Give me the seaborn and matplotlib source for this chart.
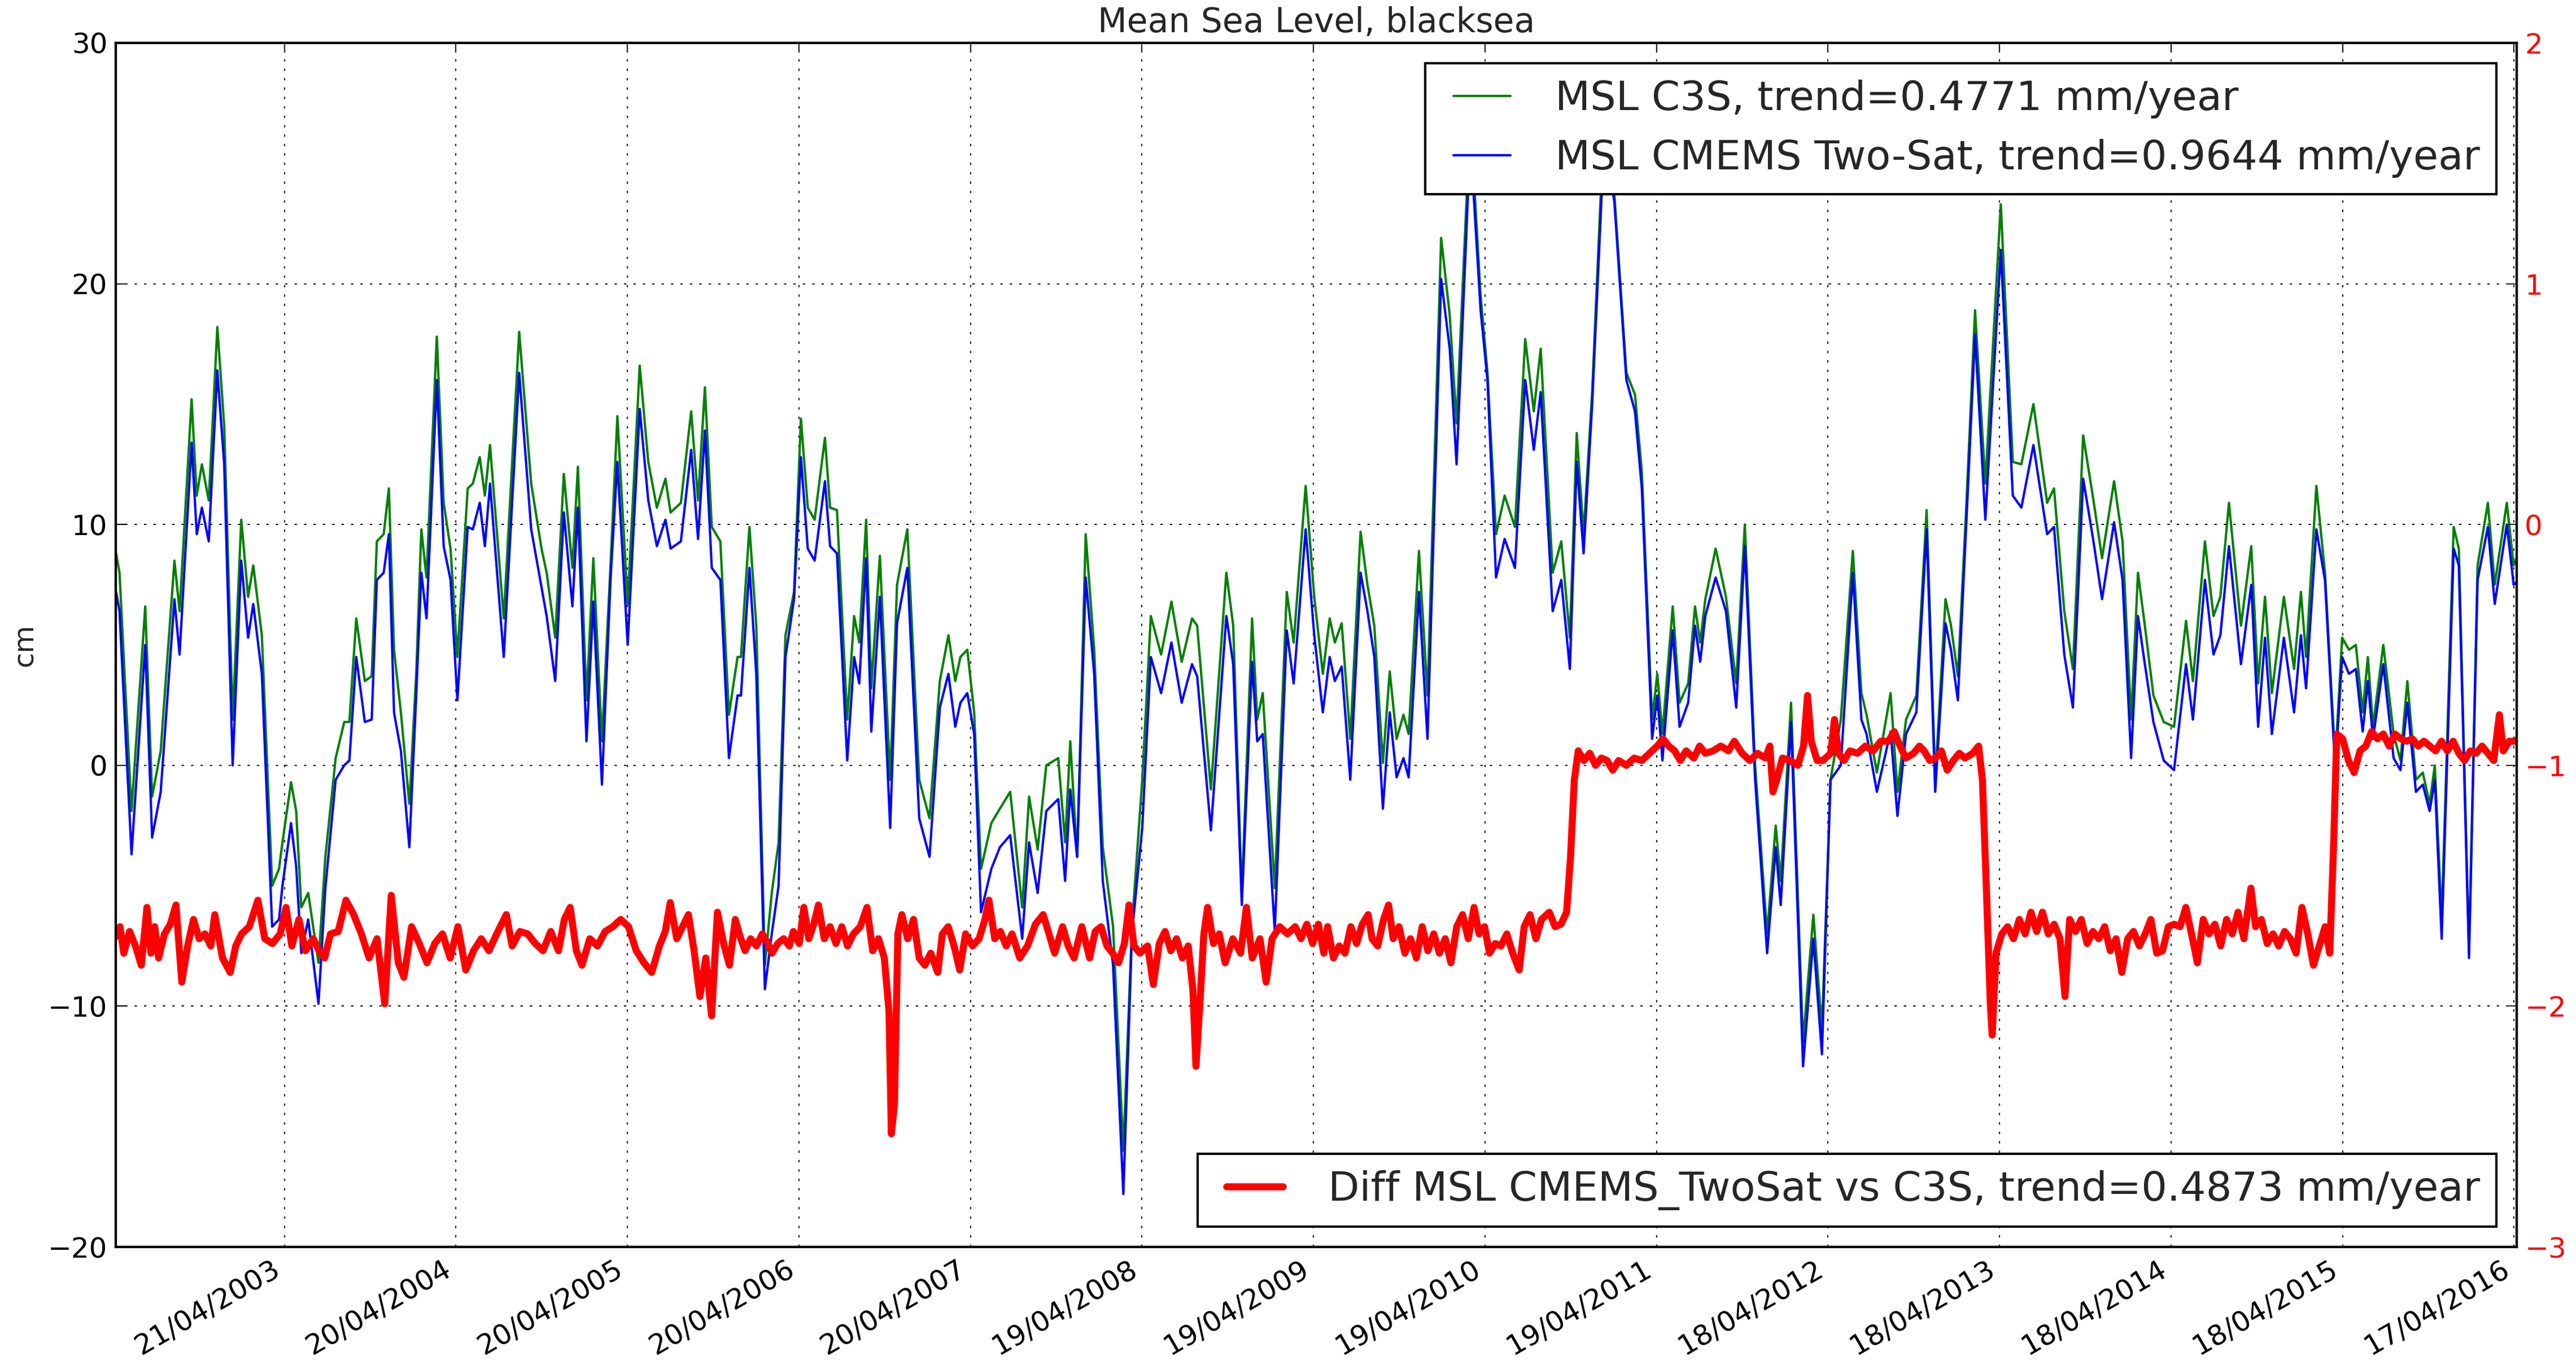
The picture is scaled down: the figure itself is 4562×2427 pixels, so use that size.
import numpy as np
import pandas as pd
import matplotlib
matplotlib.use("Agg")
import matplotlib.pyplot as plt
import matplotlib.dates as mdates
import seaborn as sns

# sample times (decimal years) and values
msl_years = [
    2002.32, 2002.34, 2002.41, 2002.49, 2002.53, 2002.58, 2002.66, 2002.69, 2002.76, 2002.79,
    2002.82, 2002.86, 2002.91, 2002.95, 2003.00, 2003.05, 2003.09, 2003.12, 2003.17, 2003.23,
    2003.27, 2003.29, 2003.34, 2003.37, 2003.40, 2003.44, 2003.50, 2003.54, 2003.60, 2003.65,
    2003.68, 2003.72, 2003.77, 2003.81, 2003.84, 2003.88, 2003.91, 2003.94, 2003.98, 2004.03,
    2004.07, 2004.10, 2004.13, 2004.19, 2004.23, 2004.27, 2004.31, 2004.37, 2004.40, 2004.44,
    2004.47, 2004.50, 2004.53, 2004.58, 2004.67, 2004.74, 2004.80, 2004.83, 2004.88, 2004.93,
    2004.98, 2005.01, 2005.06, 2005.10, 2005.15, 2005.20, 2005.24, 2005.30, 2005.37, 2005.42,
    2005.47, 2005.52, 2005.55, 2005.61, 2005.67, 2005.71, 2005.75, 2005.79,
    2005.84, 2005.89, 2005.94, 2005.96, 2006.01, 2006.05, 2006.10, 2006.14, 2006.18, 2006.22,
    2006.27, 2006.31, 2006.35, 2006.39, 2006.45, 2006.48, 2006.52, 2006.58, 2006.62, 2006.65,
    2006.69, 2006.72, 2006.77, 2006.83, 2006.87, 2006.93, 2007.00, 2007.06, 2007.12, 2007.17,
    2007.21, 2007.24, 2007.28, 2007.32, 2007.36, 2007.42, 2007.47, 2007.53, 2007.60, 2007.64,
    2007.69, 2007.74, 2007.81, 2007.85, 2007.88, 2007.92, 2007.97, 2008.02, 2008.07, 2008.13,
    2008.19, 2008.24, 2008.30, 2008.35, 2008.41, 2008.47, 2008.53, 2008.59, 2008.62, 2008.70,
    2008.79, 2008.83, 2008.88, 2008.94, 2008.97, 2009.00, 2009.07, 2009.14, 2009.18, 2009.25,
    2009.30,
    2009.35, 2009.39, 2009.42, 2009.46, 2009.51, 2009.57, 2009.61, 2009.65, 2009.70, 2009.74,
    2009.78, 2009.82, 2009.85, 2009.91, 2009.96, 2010.04, 2010.09, 2010.13, 2010.21, 2010.27,
    2010.31, 2010.36, 2010.41, 2010.47, 2010.53, 2010.58, 2010.62, 2010.69, 2010.74, 2010.79,
    2010.83, 2010.87, 2010.92, 2010.99, 2011.05, 2011.12, 2011.17, 2011.21, 2011.27, 2011.30,
    2011.33, 2011.39, 2011.43, 2011.48, 2011.52, 2011.55, 2011.58, 2011.64, 2011.70, 2011.76,
    2011.81, 2011.87, 2011.94, 2011.99, 2012.02, 2012.08, 2012.15, 2012.21, 2012.26, 2012.31,
    2012.37, 2012.44, 2012.49, 2012.52, 2012.58, 2012.66, 2012.70, 2012.75, 2012.81,
    2012.87, 2012.92, 2012.98, 2013.01, 2013.05, 2013.10, 2013.15, 2013.21, 2013.30, 2013.37,
    2013.42, 2013.49, 2013.57, 2013.61, 2013.67, 2013.72, 2013.78, 2013.84, 2013.89, 2013.96,
    2014.01, 2014.06, 2014.10, 2014.14, 2014.19, 2014.25, 2014.31, 2014.38, 2014.42, 2014.49,
    2014.54, 2014.58, 2014.63, 2014.70, 2014.76, 2014.80, 2014.84, 2014.88, 2014.95, 2015.01,
    2015.05, 2015.08, 2015.14, 2015.19, 2015.25, 2015.29, 2015.33, 2015.37, 2015.41, 2015.44,
    2015.47, 2015.53, 2015.59, 2015.63, 2015.67, 2015.72, 2015.76, 2015.80, 2015.83, 2015.87,
    2015.94, 2015.97, 2016.03, 2016.08, 2016.14, 2016.18, 2016.25, 2016.29, 2016.32,
]
c3s_cm = [
    8.8, 8.0, -1.9, 6.6, -1.3, 0.6, 8.5, 6.4, 15.2, 11.2,
    12.5, 11.0, 18.2, 14.1, 1.9, 10.2, 7.0, 8.3, 5.4, -5.0,
    -4.3, -3.2, -0.7, -1.9, -5.9, -5.3, -8.2, -3.8, 0.3, 1.8,
    1.8, 6.1, 3.5, 3.7, 9.3, 9.6, 11.5, 4.8, 2.2, -1.6,
    3.8, 9.8, 7.8, 17.8, 10.9, 9.0, 4.5, 11.5, 11.7, 12.8,
    11.2, 13.3, 10.6, 6.1, 18.0, 11.7, 9.0, 8.0, 5.3, 12.1,
    8.2, 12.4, 2.7, 8.6, 1.0, 8.3, 14.5, 6.7, 16.6, 12.6,
    10.7, 11.9, 10.5, 10.9, 14.7, 11.0, 15.7, 9.9,
    9.3, 2.1, 4.5, 4.5, 9.9, 5.8, -8.3, -5.3, -3.2, 5.4,
    7.2, 14.4, 10.7, 10.2, 13.6, 10.7, 10.6, 1.9, 6.2, 5.1,
    10.2, 3.2, 8.7, -0.6, 7.5, 9.8, -0.6, -2.2, 3.5, 5.4,
    3.5, 4.5, 4.8, 2.2, -4.3, -2.4, -1.8, -1.1, -5.9, -1.3,
    -3.5, 0.0, 0.3, -3.2, 1.0, -3.8, 9.6, 4.8, -3.4, -6.7,
    -16.0, -6.7, -0.6, 6.2, 4.6, 6.8, 4.3, 6.1, 5.8, -1.0,
    8.0, 5.8, -5.4, 6.1, 1.9, 3.0, -5.1, 7.2, 5.1, 11.6,
    7.0,
    3.8, 6.1, 5.1, 5.9, 1.1, 9.7, 7.5, 5.8, 0.1, 3.9,
    1.1, 2.1, 1.3, 8.9, 2.9, 21.9, 18.7, 14.2, 27.0, 19.5,
    16.3, 9.6, 11.2, 9.9, 17.7, 14.7, 17.3, 8.0, 9.3, 5.3,
    13.8, 9.6, 15.5, 27.0, 23.7, 16.3, 15.4, 12.2, 1.9, 3.8,
    1.3, 6.6, 2.6, 3.4, 6.6, 5.1, 6.9, 9.0, 7.0, 3.4,
    10.0, 0.0, -7.0, -2.5, -4.8, 2.6, -11.5, -6.2, -11.0, -0.6,
    1.9, 8.9, 3.0, 2.1, -0.3, 3.0, -1.1, 1.9, 2.9,
    10.6, -0.6, 6.9, 5.8, 3.7, 10.9, 18.9, 11.7, 23.3, 12.6,
    12.5, 15.0, 10.9, 11.5, 6.4, 4.0, 13.7, 11.0, 8.6, 11.8,
    9.3, 1.9, 8.0, 5.8, 2.9, 1.8, 1.6, 6.0, 3.5, 9.3,
    6.2, 7.0, 10.9, 5.8, 9.1, 3.4, 7.0, 3.0, 7.0, 4.0,
    7.2, 4.5, 11.6, 8.0, 0.2, 5.3, 4.8, 5.0, 2.2, 4.5,
    1.6, 5.0, 1.3, 0.2, 3.5, -0.6, -0.3, -1.6, 0.0, -6.4,
    9.9, 9.0, -7.7, 8.3, 10.9, 7.5, 10.9, 8.3, 8.8,
]
cmems_cm = [
    7.2, 6.4, -3.7, 5.0, -3.0, -1.1, 6.9, 4.6, 13.4, 9.6,
    10.7, 9.3, 16.4, 12.5, 0.0, 8.5, 5.3, 6.7, 3.8, -6.7,
    -6.4, -5.0, -2.4, -4.2, -7.8, -6.4, -9.9, -5.1, -0.6, 0.0,
    0.2, 4.5, 1.8, 1.9, 7.7, 8.0, 9.6, 2.2, 0.6, -3.4,
    2.9, 8.0, 6.1, 16.0, 9.1, 7.7, 2.7, 9.9, 9.8, 10.9,
    9.1, 11.7, 9.0, 4.5, 16.3, 9.8, 7.4, 6.2, 3.5, 10.5,
    6.6, 10.7, 1.0, 6.8, -0.8, 7.7, 12.6, 5.0, 14.8, 11.0,
    9.1, 10.2, 9.0, 9.3, 13.1, 9.4, 13.9, 8.2,
    7.7, 0.3, 2.9, 2.9, 8.2, 3.8, -9.3, -7.0, -5.0, 4.5,
    6.9, 12.8, 9.0, 8.5, 11.8, 9.1, 8.8, 0.2, 4.5, 3.4,
    8.6, 1.4, 7.0, -2.6, 5.9, 8.2, -2.2, -3.8, 2.4, 3.8,
    1.6, 2.6, 3.0, 1.3, -6.1, -4.3, -3.4, -2.9, -7.2, -3.2,
    -5.3, -1.9, -1.4, -4.8, -1.0, -3.8, 7.8, 3.8, -4.8, -8.3,
    -17.8, -7.0, -2.6, 4.5, 3.0, 5.1, 2.6, 4.2, 3.7, -2.7,
    6.2, 4.2, -5.8, 4.3, 1.0, 1.3, -6.9, 5.6, 3.4, 9.8,
    5.4,
    2.2, 4.5, 3.5, 4.1, -0.6, 8.0, 6.4, 4.5, -1.8, 2.2,
    -0.5, 0.3, -0.5, 7.2, 1.1, 20.2, 17.3, 12.5, 26.0, 18.9,
    16.0, 7.8, 9.4, 8.2, 16.0, 13.1, 15.5, 6.4, 7.7, 4.0,
    12.6, 8.8, 15.0, 26.0, 23.4, 16.0, 14.7, 11.5, 1.1, 2.9,
    0.2, 5.6, 1.6, 2.6, 5.8, 4.3, 6.2, 7.8, 6.4, 2.4,
    9.1, -0.6, -7.8, -3.4, -5.8, 1.8, -12.5, -7.2, -12.0, -0.6,
    0.0, 8.0, 1.9, 1.3, -1.1, 1.4, -2.1, 1.3, 2.2,
    9.8, -1.1, 5.9, 4.8, 2.7, 10.2, 17.9, 10.2, 21.4, 11.2,
    10.7, 13.3, 9.6, 9.9, 4.6, 2.4, 11.9, 9.3, 6.9, 10.1,
    7.7, 0.3, 6.2, 4.2, 1.8, 0.2, -0.2, 4.2, 1.9, 7.7,
    4.6, 5.4, 9.1, 4.2, 7.5, 1.6, 5.3, 1.3, 5.3, 2.2,
    5.4, 3.2, 9.8, 7.7, -0.2, 4.5, 3.8, 4.0, 1.4, 3.5,
    1.1, 4.2, 0.3, -0.2, 2.6, -1.1, -0.8, -1.9, -0.6, -7.2,
    9.0, 8.3, -8.0, 7.7, 9.9, 6.7, 10.0, 7.5, 7.7,
]

# difference series, right axis units
diff_years = [
    2002.309, 2002.343, 2002.365, 2002.399, 2002.433, 2002.467, 2002.500, 2002.523, 2002.545, 2002.568,
    2002.602, 2002.636, 2002.669, 2002.703, 2002.737, 2002.771, 2002.804, 2002.838, 2002.872, 2002.895,
    2002.940, 2002.985, 2003.018, 2003.052, 2003.097, 2003.147, 2003.187, 2003.232, 2003.277, 2003.311,
    2003.345, 2003.386, 2003.424, 2003.469, 2003.503, 2003.536, 2003.570, 2003.615, 2003.660, 2003.705,
    2003.750, 2003.795, 2003.841, 2003.886, 2003.924, 2003.965, 2003.998, 2004.043, 2004.088, 2004.133,
    2004.178, 2004.223, 2004.268, 2004.313, 2004.359, 2004.404, 2004.449, 2004.494, 2004.539, 2004.595,
    2004.629, 2004.674, 2004.719, 2004.764, 2004.809, 2004.854, 2004.899, 2004.933, 2004.967, 2005.001,
    2005.034, 2005.079, 2005.124, 2005.169, 2005.214, 2005.259, 2005.305, 2005.350, 2005.395, 2005.440,
    2005.485, 2005.519, 2005.548, 2005.586, 2005.620, 2005.654, 2005.687, 2005.721, 2005.755, 2005.789,
    2005.823,
    2005.859, 2005.893, 2005.927, 2005.950, 2005.984, 2006.017, 2006.051, 2006.085, 2006.119, 2006.142,
    2006.175, 2006.209, 2006.243, 2006.266, 2006.300, 2006.327, 2006.356, 2006.385, 2006.412, 2006.446,
    2006.480, 2006.514, 2006.548, 2006.582, 2006.616, 2006.656, 2006.695, 2006.728, 2006.762, 2006.796,
    2006.823, 2006.837, 2006.855, 2006.875, 2006.898, 2006.932, 2006.966, 2007.000, 2007.033, 2007.067,
    2007.108, 2007.135, 2007.169, 2007.203, 2007.236, 2007.270, 2007.311, 2007.349, 2007.383, 2007.406,
    2007.440, 2007.473, 2007.507, 2007.541, 2007.586, 2007.631, 2007.677, 2007.722, 2007.756, 2007.789,
    2007.835, 2007.868, 2007.902, 2007.947, 2007.993, 2008.026, 2008.060, 2008.094, 2008.128, 2008.162,
    2008.196, 2008.223, 2008.252, 2008.286, 2008.331, 2008.365, 2008.399, 2008.433, 2008.467, 2008.500,
    2008.534, 2008.568, 2008.595, 2008.613, 2008.636, 2008.659, 2008.681, 2008.715, 2008.749, 2008.783,
    2008.828, 2008.873, 2008.907, 2008.941, 2008.986, 2009.020, 2009.054, 2009.099, 2009.144, 2009.189,
    2009.223, 2009.257, 2009.291, 2009.324,
    2009.356, 2009.378, 2009.412, 2009.446, 2009.479, 2009.513, 2009.547, 2009.580, 2009.614, 2009.637,
    2009.670, 2009.704, 2009.733, 2009.760, 2009.794, 2009.828, 2009.861, 2009.895, 2009.929, 2009.962,
    2009.996, 2010.030, 2010.064, 2010.097, 2010.131, 2010.165, 2010.198, 2010.232, 2010.261, 2010.293,
    2010.322, 2010.356, 2010.389, 2010.423, 2010.457, 2010.495, 2010.524, 2010.558, 2010.592, 2010.625,
    2010.670, 2010.704, 2010.738, 2010.771, 2010.794, 2010.816, 2010.839, 2010.872, 2010.906, 2010.940,
    2010.974, 2011.007, 2011.041, 2011.075, 2011.120, 2011.165, 2011.210, 2011.255, 2011.300, 2011.333,
    2011.367, 2011.401, 2011.434, 2011.468, 2011.513, 2011.547, 2011.580, 2011.625, 2011.670, 2011.715,
    2011.749, 2011.794, 2011.839, 2011.884, 2011.929, 2011.956, 2011.974, 2011.996, 2012.030, 2012.075,
    2012.120, 2012.153, 2012.176, 2012.198, 2012.232, 2012.266, 2012.311, 2012.333, 2012.356, 2012.389,
    2012.423, 2012.468, 2012.513, 2012.558, 2012.603, 2012.647, 2012.681, 2012.715, 2012.749, 2012.794,
    2012.828,
    2012.855, 2012.889, 2012.923, 2012.956, 2012.990, 2013.024, 2013.058, 2013.092, 2013.137, 2013.171,
    2013.193, 2013.216, 2013.239, 2013.250, 2013.272, 2013.306, 2013.340, 2013.374, 2013.408, 2013.442,
    2013.476, 2013.509, 2013.543, 2013.577, 2013.611, 2013.645, 2013.674, 2013.701, 2013.735, 2013.769,
    2013.803, 2013.837, 2013.871, 2013.905, 2013.938, 2013.972, 2014.006, 2014.040, 2014.074, 2014.108,
    2014.142, 2014.175, 2014.209, 2014.243, 2014.277, 2014.311, 2014.345, 2014.379, 2014.412, 2014.446,
    2014.480, 2014.514, 2014.548, 2014.582, 2014.616, 2014.649, 2014.683, 2014.717, 2014.758, 2014.785,
    2014.819, 2014.853, 2014.887, 2014.920, 2014.954, 2014.988, 2015.022, 2015.056, 2015.090, 2015.123,
    2015.157, 2015.191, 2015.218, 2015.241, 2015.259, 2015.293, 2015.327, 2015.360, 2015.394, 2015.428,
    2015.462, 2015.496, 2015.530, 2015.564, 2015.598, 2015.632, 2015.665, 2015.699, 2015.733, 2015.767,
    2015.801, 2015.835, 2015.869, 2015.903, 2015.937, 2015.970, 2016.004, 2016.038, 2016.072, 2016.106,
    2016.140, 2016.174, 2016.207, 2016.230, 2016.264, 2016.298, 2016.320,
]
diff_val = [
    -1.72, -1.67, -1.78, -1.69, -1.75, -1.83, -1.59, -1.78, -1.67, -1.80,
    -1.70, -1.66, -1.58, -1.90, -1.75, -1.64, -1.72, -1.70, -1.75, -1.62,
    -1.80, -1.86, -1.75, -1.70, -1.67, -1.56, -1.72, -1.74, -1.70, -1.59,
    -1.75, -1.64, -1.77, -1.72, -1.77, -1.80, -1.70, -1.69, -1.56, -1.62,
    -1.70, -1.80, -1.72, -1.99, -1.54, -1.82, -1.88, -1.67, -1.74, -1.82,
    -1.74, -1.70, -1.80, -1.67, -1.85, -1.77, -1.72, -1.77, -1.70, -1.62,
    -1.75, -1.69, -1.70, -1.74, -1.77, -1.69, -1.77, -1.64, -1.59, -1.77,
    -1.83, -1.72, -1.75, -1.69, -1.67, -1.64, -1.67, -1.77, -1.82, -1.86,
    -1.75, -1.69, -1.57, -1.72, -1.67, -1.62, -1.77, -1.96, -1.80, -2.04,
    -1.61,
    -1.74, -1.83, -1.64, -1.70, -1.77, -1.72, -1.75, -1.70, -1.74, -1.78,
    -1.74, -1.72, -1.75, -1.69, -1.74, -1.59, -1.72, -1.66, -1.58, -1.72,
    -1.67, -1.74, -1.67, -1.75, -1.70, -1.67, -1.59, -1.77, -1.72, -1.80,
    -2.02, -2.53, -2.41, -1.70, -1.62, -1.72, -1.64, -1.80, -1.83, -1.78,
    -1.86, -1.70, -1.67, -1.75, -1.85, -1.70, -1.75, -1.72, -1.64, -1.56,
    -1.72, -1.69, -1.75, -1.70, -1.80, -1.75, -1.66, -1.62, -1.70, -1.78,
    -1.67, -1.75, -1.80, -1.67, -1.80, -1.69, -1.67, -1.75, -1.78, -1.82,
    -1.74, -1.58, -1.75, -1.78, -1.75, -1.91, -1.74, -1.69, -1.77, -1.72,
    -1.80, -1.75, -1.93, -2.25, -1.99, -1.70, -1.59, -1.74, -1.70, -1.82,
    -1.72, -1.78, -1.59, -1.80, -1.72, -1.90, -1.72, -1.67, -1.70, -1.67,
    -1.72, -1.66, -1.74, -1.66,
    -1.78, -1.67, -1.80, -1.75, -1.78, -1.67, -1.74, -1.66, -1.62, -1.72,
    -1.75, -1.64, -1.58, -1.72, -1.67, -1.78, -1.72, -1.80, -1.67, -1.77,
    -1.70, -1.78, -1.72, -1.82, -1.67, -1.62, -1.72, -1.59, -1.70, -1.67,
    -1.78, -1.74, -1.75, -1.70, -1.78, -1.85, -1.67, -1.62, -1.72, -1.64,
    -1.61, -1.67, -1.66, -1.61, -1.38, -1.06, -0.94, -0.98, -0.95, -1.00,
    -0.97, -0.98, -1.02, -0.98, -1.00, -0.97, -0.98, -0.95, -0.92, -0.89,
    -0.92, -0.94, -0.98, -0.94, -0.97, -0.92, -0.95, -0.94, -0.92, -0.94,
    -0.90, -0.95, -0.98, -0.95, -0.97, -0.92, -1.11, -1.06, -0.97, -0.98,
    -1.00, -0.92, -0.71, -0.90, -0.98, -0.98, -0.95, -0.81, -0.95, -0.98,
    -0.94, -0.95, -0.92, -0.94, -0.90, -0.90, -0.86, -0.92, -0.97, -0.95,
    -0.92,
    -0.94, -0.98, -0.97, -0.94, -1.02, -0.98, -0.95, -0.97, -0.95, -0.92,
    -1.06, -1.51, -1.99, -2.12, -1.78, -1.70, -1.67, -1.72, -1.64, -1.70,
    -1.61, -1.69, -1.61, -1.70, -1.66, -1.72, -1.96, -1.64, -1.69, -1.64,
    -1.74, -1.69, -1.72, -1.67, -1.77, -1.72, -1.86, -1.72, -1.69, -1.75,
    -1.70, -1.64, -1.78, -1.77, -1.67, -1.66, -1.67, -1.59, -1.70, -1.82,
    -1.64, -1.70, -1.66, -1.75, -1.64, -1.70, -1.61, -1.72, -1.51, -1.67,
    -1.64, -1.74, -1.70, -1.75, -1.69, -1.72, -1.78, -1.59, -1.70, -1.83,
    -1.75, -1.67, -1.78, -1.32, -0.87, -0.89, -0.98, -1.03, -0.94, -0.92,
    -0.86, -0.89, -0.87, -0.92, -0.87, -0.89, -0.90, -0.89, -0.92, -0.90,
    -0.92, -0.94, -0.90, -0.94, -0.90, -0.95, -0.98, -0.94, -0.95, -0.92,
    -0.95, -0.98, -0.79, -0.94, -0.90, -0.90, -0.89,
]

tick_labels = ["21/04/2003", "20/04/2004", "20/04/2005", "20/04/2006", "20/04/2007",
               "19/04/2008", "19/04/2009", "19/04/2010", "19/04/2011", "18/04/2012",
               "18/04/2013", "18/04/2014", "18/04/2015", "17/04/2016"]

label_c3s = "MSL C3S, trend=0.4771 mm/year"
label_cmems = "MSL CMEMS Two-Sat, trend=0.9644 mm/year"
label_diff = "Diff MSL CMEMS_TwoSat vs C3S, trend=0.4873 mm/year"


def to_dates(years):
    years = np.asarray(years, dtype=float)
    whole = np.floor(years).astype(int)
    start = pd.to_datetime(whole.astype(str), format="%Y")
    return start + pd.to_timedelta((years - whole) * 365.25, unit="D")


msl = pd.DataFrame({"date": to_dates(msl_years), "c3s": c3s_cm, "cmems": cmems_cm})
diff = pd.DataFrame({"date": to_dates(diff_years), "diff": diff_val})

sns.set_style("white")
plt.rcParams["font.family"] = ["DejaVu Sans"]
plt.rcParams["font.size"] = 12
plt.rcParams["lines.scale_dashes"] = False
plt.rcParams["lines.dotted_pattern"] = [1, 3]

fig = plt.figure(figsize=(4562 / 300, 2427 / 300), dpi=300)
ax = fig.add_axes([0.0449, 0.0898, 0.932, 0.8789])
ax2 = ax.twinx()
ax2.set_position([0.0449, 0.0898, 0.932, 0.8789])

sns.lineplot(data=msl, x="date", y="c3s", ax=ax, color="g", linewidth=1.0)
sns.lineplot(data=msl, x="date", y="cmems", ax=ax, color="b", linewidth=1.0)
sns.lineplot(data=diff, x="date", y="diff", ax=ax2, color="r", linewidth=3.0)
for ln in ax.get_lines() + ax2.get_lines():
    ln.set_solid_joinstyle("round")

ax.set_ylim(-20, 30)
ax2.set_ylim(-3, 2)
ax.set_yticks([-20, -10, 0, 10, 20, 30])
ax2.set_yticks([-3, -2, -1, 0, 1, 2])
ax.set_xlim(pd.Timestamp("2002-04-27"), pd.Timestamp("2016-04-22"))
ax.set_xticks(pd.to_datetime(tick_labels, format="%d/%m/%Y"))
ax.xaxis.set_major_formatter(mdates.DateFormatter("%d/%m/%Y"))
for lab in ax.get_xticklabels():
    lab.set_rotation(30)
    lab.set_ha("right")

ax.set_xlabel("")
ax.set_ylabel("cm", fontsize=12)
ax2.set_ylabel("")
ax.set_title("Mean Sea Level, blacksea", fontsize=14.4, pad=4.5)

ax.grid(True, color="k", linestyle=":", linewidth=0.5)
ax.tick_params(axis="both", direction="in", length=4, width=0.5, labelsize=12,
               top=True, right=False, colors="k")
ax2.tick_params(axis="y", direction="in", length=4, width=0.5, labelsize=12,
                labelcolor="r")
for a in (ax, ax2):
    for sp in a.spines.values():
        sp.set_color("k")
        sp.set_linewidth(1.0)

h_g = ax.get_lines()[0]
h_b = ax.get_lines()[1]
h_r = ax2.get_lines()[0]
leg_kw = dict(fontsize=17.28, numpoints=2, handlelength=2.0, handletextpad=0.8,
              borderpad=0.4, labelspacing=0.5, fancybox=False, framealpha=1,
              edgecolor="k")
leg1 = ax.legend([h_g, h_b], [label_c3s, label_cmems], loc="upper right", **leg_kw)
leg2 = ax2.legend([h_r], [label_diff], loc="lower right", **leg_kw)
for lg in (leg1, leg2):
    lg.get_frame().set_linewidth(1.0)

fig.savefig("out.png", dpi=300, facecolor="white")
